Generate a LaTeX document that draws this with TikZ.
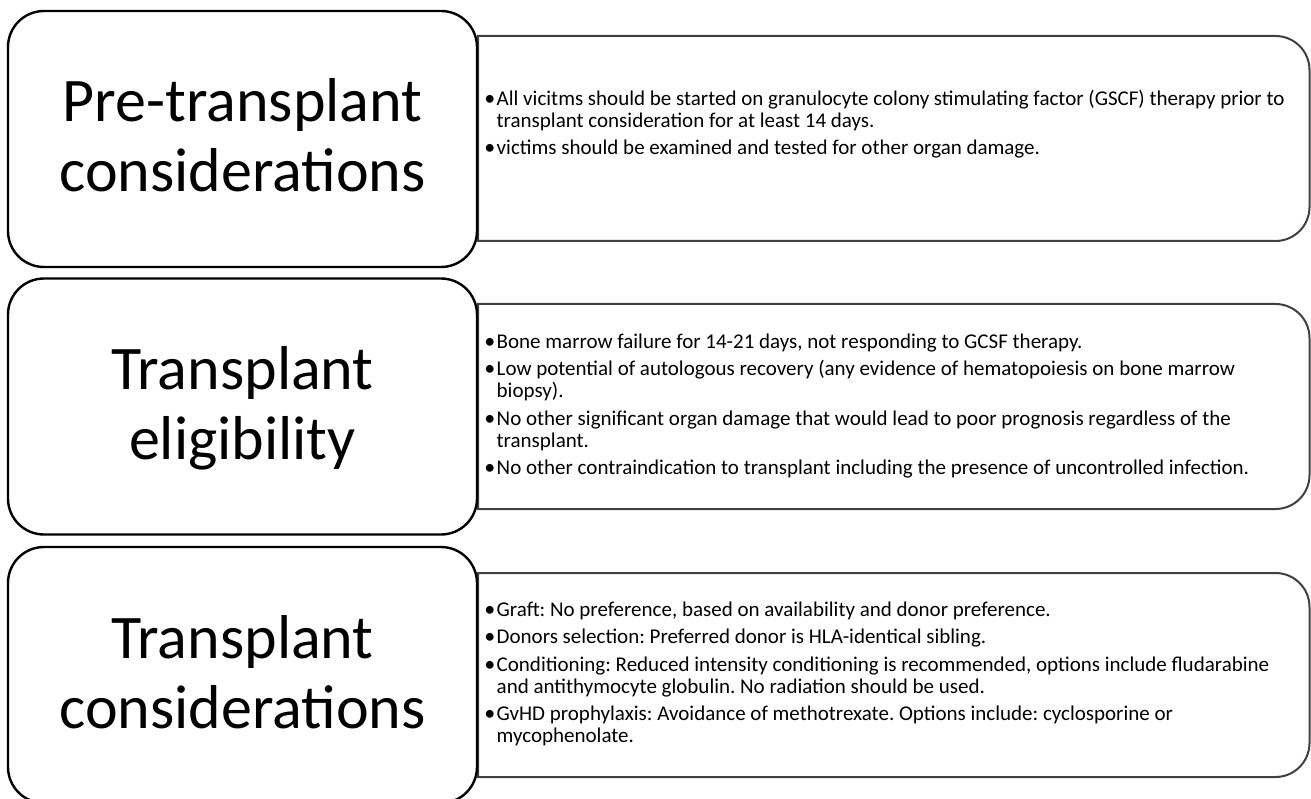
\documentclass[tikz,border=0pt]{standalone}
\usepackage{fontspec}
\setmainfont{Carlito}
\begin{document}
\begin{tikzpicture}[x=1pt,y=-1pt,
  titlebox/.style={draw=black, line width=2.4pt, fill=white, rounded corners=36pt,
    minimum width=469pt, minimum height=256pt, inner sep=0pt},
  titletext/.style={inner sep=0pt, align=center, font=\fontsize{62}{70}\selectfont},
  detailline/.style={draw=black!75, line width=2pt, fill=white},
  detailtext/.style={anchor=north west, inner sep=0pt, align=left,
    font=\fontsize{21}{22}\selectfont\frenchspacing}
]
\useasboundingbox (0,0) rectangle (1311,799);
\clip (0,0) rectangle (1311,799);
\newcommand{\bul}{\makebox[7.5pt][l]{\hspace*{-4.8pt}\fontsize{22}{22}\selectfont•}}
\newcommand{\ind}{\hspace*{7.5pt}}
\newcommand{\firstline}{\rule{0pt}{17pt}}
\newcommand{\tstrut}{\rule[-14pt]{0pt}{59pt}}
% ---------- row 1 ----------
\draw[detailline] (478,36) -- (1275.5,36) arc[start angle=-90,end angle=0,radius=34]
  -- (1309.5,207) arc[start angle=0,end angle=90,radius=34] -- (478,241) -- cycle;
\node[titlebox] (t1) at (242.5,139) {};
\node[titletext] (t1txt) at ([yshift=-2.5pt]t1.center) {\tstrut Pre-transplant\\\tstrut considerations};
\node[detailtext] (d1) at (489,88) {%
\firstline\bul All vicitms should be started on granulocyte colony stimulating factor (GSCF) therapy prior to\\
\ind transplant consideration for at least 14 days.\\[5.5pt]
\bul victims should be examined and tested for other organ damage.};
% ---------- row 2 ----------
\draw[detailline] (478,304) -- (1275.5,304) arc[start angle=-90,end angle=0,radius=34]
  -- (1309.5,475) arc[start angle=0,end angle=90,radius=34] -- (478,509) -- cycle;
\node[titlebox] (t2) at (242.5,406.5) {};
\node[titletext] (t2txt) at ([yshift=-2.5pt]t2.center) {\tstrut Transplant\\\tstrut eligibility};
\node[detailtext] (d2) at (489,331) {%
\firstline\bul Bone marrow failure for 14-21 days, not responding to GCSF therapy.\\[5.5pt]
\bul Low potential of autologous recovery (any evidence of hematopoiesis on bone marrow\\
\ind biopsy).\\[5.5pt]
\bul No other significant organ damage that would lead to poor prognosis regardless of the\\
\ind transplant.\\[5.5pt]
\bul No other contraindication to transplant including the presence of uncontrolled infection.};
% ---------- row 3 ----------
\draw[detailline] (478,573) -- (1275.5,573) arc[start angle=-90,end angle=0,radius=34]
  -- (1309.5,743) arc[start angle=0,end angle=90,radius=34] -- (478,777) -- cycle;
\node[titlebox] (t3) at (242.5,675) {};
\node[titletext] (t3txt) at ([yshift=-2.5pt]t3.center) {\tstrut Transplant\\\tstrut considerations};
\node[detailtext] (d3) at (489,599) {%
\firstline\bul Graft: No preference, based on availability and donor preference.\\[5.5pt]
\bul Donors selection: Preferred donor is HLA-identical sibling.\\[5.5pt]
\bul Conditioning: Reduced intensity conditioning is recommended, options include fludarabine\\
\ind and antithymocyte globulin. No radiation should be used.\\[5.5pt]
\bul GvHD prophylaxis: Avoidance of methotrexate. Options include: cyclosporine or\\
\ind mycophenolate.};
\end{tikzpicture}
\end{document}
